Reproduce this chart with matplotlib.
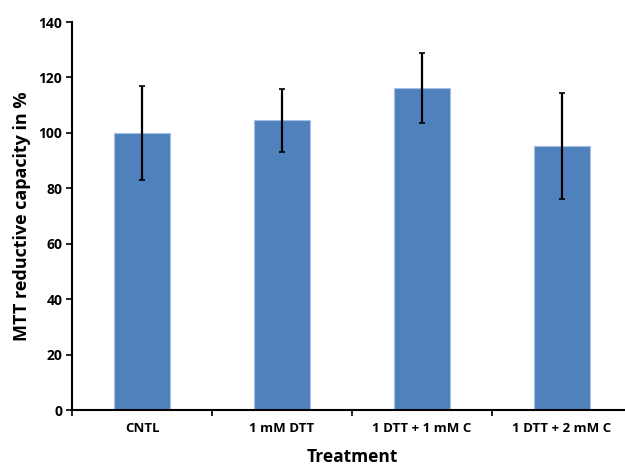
import matplotlib
matplotlib.use("Agg")
import matplotlib.pyplot as plt
import numpy as np

categories = ["CNTL", "1 mM DTT", "1 DTT + 1 mM C", "1 DTT + 2 mM C"]
values = [100.0, 104.5, 116.2, 95.3]
errors = [17.0, 11.4, 12.5, 19.2]
yticks = [0, 20, 40, 60, 80, 100, 120, 140]

plt.rcParams['font.family'] = ['Open Sans', 'DejaVu Sans']

fig = plt.figure(figsize=(6.25, 4.66), dpi=100)
ax = fig.add_axes([72/625, 1-410/466, (632-72)/625, (410-22)/466])

x = np.arange(len(categories))
ax.bar(x, values, width=0.4, color="#4F81BD", edgecolor="#A9C0E0", linewidth=0.8, zorder=2)
ax.errorbar(x, values, yerr=errors, fmt='none', ecolor='black', elinewidth=1.6,
            capsize=2.5, capthick=1.2, zorder=3)

ax.set_xlim(-0.5, len(categories) - 0.5)
ax.set_ylim(0, 140)
ax.set_yticks(yticks)
ax.set_yticklabels([str(t) for t in yticks], fontsize=10, fontweight='bold')
ax.set_xticks(x)
ax.set_xticklabels(categories, fontsize=9.5, fontweight='bold')
ax.set_xticks(np.arange(-0.5, len(categories), 1.0), minor=True)
ax.tick_params(axis='x', which='major', length=0, pad=9)
ax.tick_params(axis='x', which='minor', length=4, width=1.2, direction='out')
ax.tick_params(axis='y', length=4, width=1.2, direction='out', pad=3)

for s in ['top', 'right']:
    ax.spines[s].set_visible(False)
for s in ['left', 'bottom']:
    ax.spines[s].set_linewidth(1.5)
    ax.spines[s].set_color('black')

ax.set_ylabel("MTT reductive capacity in %", fontsize=13, fontweight='bold', labelpad=5)
ax.set_xlabel("Treatment", fontsize=12.5, fontweight='bold', labelpad=9)

fig.savefig("out.png", dpi=100)
